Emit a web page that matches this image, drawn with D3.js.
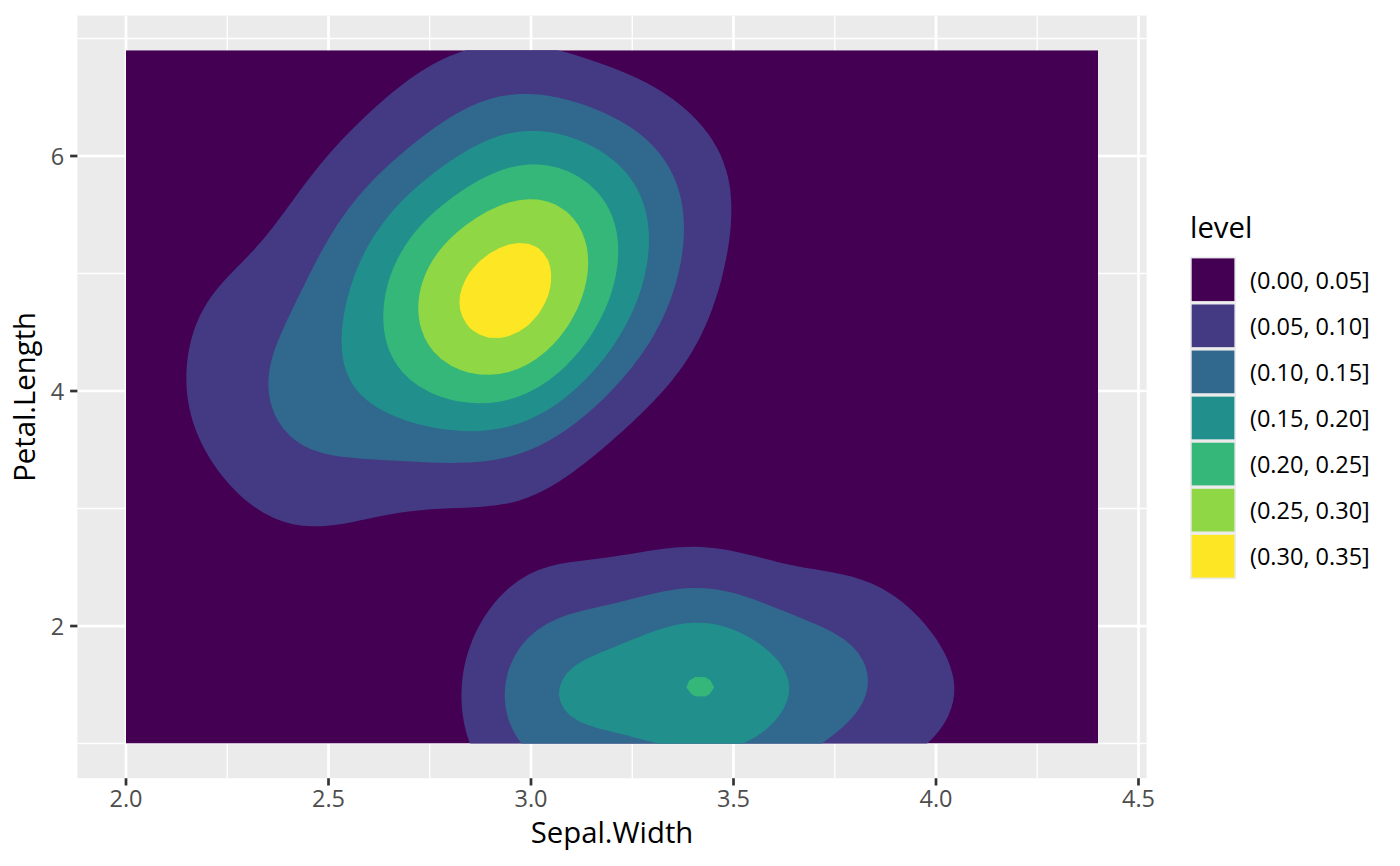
<!DOCTYPE html>
<html>
<head>
<meta charset="utf-8">
<script src="https://cdn.jsdelivr.net/npm/d3@7"></script>
<style>
  body { margin: 0; background: #fff; }
  text { font-family: "Open Sans", "Noto Sans", sans-serif; }
</style>
</head>
<body>
<svg id="chart" width="1400" height="866"></svg>
<script>
// iris: Sepal.Width and Petal.Length (setosa, versicolor, virginica)
const sepalWidth = [
  3.5,3.0,3.2,3.1,3.6,3.9,3.4,3.4,2.9,3.1,3.7,3.4,3.0,3.0,4.0,4.4,3.9,3.5,3.8,3.8,3.4,3.7,3.6,3.3,3.4,
  3.0,3.4,3.5,3.4,3.2,3.1,3.4,4.1,4.2,3.1,3.2,3.5,3.6,3.0,3.4,3.5,2.3,3.2,3.5,3.8,3.0,3.8,3.2,3.7,3.3,
  3.2,3.2,3.1,2.3,2.8,2.8,3.3,2.4,2.9,2.7,2.0,3.0,2.2,2.9,2.9,3.1,3.0,2.7,2.2,2.5,3.2,2.8,2.5,2.8,2.9,
  3.0,2.8,3.0,2.9,2.6,2.4,2.4,2.7,2.7,3.0,3.4,3.1,2.3,3.0,2.5,2.6,3.0,2.6,2.3,2.7,3.0,2.9,2.9,2.5,2.8,
  3.3,2.7,3.0,2.9,3.0,3.0,2.5,2.9,2.5,3.6,3.2,2.7,3.0,2.5,2.8,3.2,3.0,3.8,2.6,2.2,3.2,2.8,2.8,2.7,3.3,
  3.2,2.8,3.0,2.8,3.0,2.8,3.8,2.8,2.8,2.6,3.0,3.4,3.1,3.0,3.1,3.1,3.1,2.7,3.2,3.3,3.0,2.5,3.0,3.4,3.0
];
const petalLength = [
  1.4,1.4,1.3,1.5,1.4,1.7,1.4,1.5,1.4,1.5,1.5,1.6,1.4,1.1,1.2,1.5,1.3,1.4,1.7,1.5,1.7,1.5,1.0,1.7,1.9,
  1.6,1.6,1.5,1.4,1.6,1.6,1.5,1.5,1.4,1.5,1.2,1.3,1.4,1.3,1.5,1.3,1.3,1.3,1.6,1.9,1.4,1.6,1.4,1.5,1.4,
  4.7,4.5,4.9,4.0,4.6,4.5,4.7,3.3,4.6,3.9,3.5,4.2,4.0,4.7,3.6,4.4,4.5,4.1,4.5,3.9,4.8,4.0,4.9,4.7,4.3,
  4.4,4.8,5.0,4.5,3.5,3.8,3.7,3.9,5.1,4.5,4.5,4.7,4.4,4.1,4.0,4.4,4.6,4.0,3.3,4.2,4.2,4.2,4.3,3.0,4.1,
  6.0,5.1,5.9,5.6,5.8,6.6,4.5,6.3,5.8,6.1,5.1,5.3,5.5,5.0,5.1,5.3,5.5,6.7,6.9,5.0,5.7,4.9,6.7,4.9,5.7,
  6.0,4.8,4.9,5.6,5.8,6.1,6.4,5.6,5.1,5.6,6.1,5.6,5.5,4.8,5.4,5.6,5.1,5.1,5.9,5.7,5.2,5.0,5.2,5.4,5.1
];

const levelBreaks = [0.00, 0.05, 0.10, 0.15, 0.20, 0.25, 0.30, 0.35];
const levelLabels = ["(0.00, 0.05]", "(0.05, 0.10]", "(0.10, 0.15]", "(0.15, 0.20]",
                     "(0.20, 0.25]", "(0.25, 0.30]", "(0.30, 0.35]"];
const levelColors = ["#440154", "#443A83", "#31688E", "#21908C", "#35B779", "#8FD744", "#FDE725"];

const xTicks = [2.0, 2.5, 3.0, 3.5, 4.0, 4.5];
const xMinor = [2.25, 2.75, 3.25, 3.75, 4.25];
const yTicks = [2, 4, 6];
const yMinor = [1, 3, 5, 7];

const svg = d3.select("#chart");

const panel = {left: 77.4, right: 1146.6, top: 15.6, bottom: 778.2};

// same as ggplot: 5% expansion on both sides
const xExt = d3.extent(sepalWidth), yExt = d3.extent(petalLength);
const xPad = (xExt[1] - xExt[0]) * 0.05, yPad = (yExt[1] - yExt[0]) * 0.05;
const x = d3.scaleLinear().domain([xExt[0] - xPad, xExt[1] + xPad]).range([panel.left, panel.right]);
const y = d3.scaleLinear().domain([yExt[0] - yPad, yExt[1] + yPad]).range([panel.bottom, panel.top]);

// 2d kernel density, like MASS::kde2d with bandwidth.nrd
function bwNrd(v) {
  const s = v.slice().sort(d3.ascending);
  const iqr = (d3.quantile(s, 0.75) - d3.quantile(s, 0.25)) / 1.34;
  return 4 * 1.06 * Math.min(d3.deviation(v), iqr) * Math.pow(v.length, -0.2);
}
const n = 100;
const hx = bwNrd(sepalWidth) / 4, hy = bwNrd(petalLength) / 4;
const dx = (xExt[1] - xExt[0]) / (n - 1), dy = (yExt[1] - yExt[0]) / (n - 1);
const dnorm = u => Math.exp(-0.5 * u * u) / Math.sqrt(2 * Math.PI);
const grid = new Array(n * n).fill(0);
const npts = sepalWidth.length;
for (let j = 0; j < n; j++) {
  const gy = yExt[0] + j * dy;
  for (let i = 0; i < n; i++) {
    const gx = xExt[0] + i * dx;
    let sum = 0;
    for (let k = 0; k < npts; k++) {
      sum += dnorm((gx - sepalWidth[k]) / hx) * dnorm((gy - petalLength[k]) / hy);
    }
    grid[j * n + i] = sum / (npts * hx * hy);
  }
}

// panel background + grid
svg.append("rect")
  .attr("x", panel.left).attr("y", panel.top)
  .attr("width", panel.right - panel.left).attr("height", panel.bottom - panel.top)
  .attr("fill", "#EBEBEB");

svg.selectAll(".xminor").data(xMinor).enter().append("line")
  .attr("x1", d => x(d)).attr("x2", d => x(d))
  .attr("y1", panel.top).attr("y2", panel.bottom)
  .attr("stroke", "#fff").attr("stroke-width", 1.35);
svg.selectAll(".yminor").data(yMinor.filter(d => y(d) > panel.top && y(d) < panel.bottom)).enter().append("line")
  .attr("y1", d => y(d)).attr("y2", d => y(d))
  .attr("x1", panel.left).attr("x2", panel.right)
  .attr("stroke", "#fff").attr("stroke-width", 1.35);
svg.selectAll(".xmajor").data(xTicks).enter().append("line")
  .attr("x1", d => x(d)).attr("x2", d => x(d))
  .attr("y1", panel.top).attr("y2", panel.bottom)
  .attr("stroke", "#fff").attr("stroke-width", 2.7);
svg.selectAll(".ymajor").data(yTicks).enter().append("line")
  .attr("y1", d => y(d)).attr("y2", d => y(d))
  .attr("x1", panel.left).attr("x2", panel.right)
  .attr("stroke", "#fff").attr("stroke-width", 2.7);

// filled density bands
svg.append("clipPath").attr("id", "gridclip")
  .append("rect")
  .attr("x", x(xExt[0])).attr("y", y(yExt[1]))
  .attr("width", x(xExt[1]) - x(xExt[0])).attr("height", y(yExt[0]) - y(yExt[1]));

const bands = svg.append("g").attr("clip-path", "url(#gridclip)");
bands.append("rect")
  .attr("x", x(xExt[0])).attr("y", y(yExt[1]))
  .attr("width", x(xExt[1]) - x(xExt[0])).attr("height", y(yExt[0]) - y(yExt[1]))
  .attr("fill", levelColors[0]);

const contours = d3.contours().size([n, n]).thresholds(levelBreaks.slice(1, -1))(grid);
const proj = d3.geoTransform({
  point: function(cx, cy) {
    this.stream.point(x(xExt[0] + (cx - 0.5) * dx), y(yExt[0] + (cy - 0.5) * dy));
  }
});
const path = d3.geoPath(proj);
bands.selectAll("path.band").data(contours).enter().append("path")
  .attr("class", "band")
  .attr("d", path)
  .attr("fill", (d, i) => levelColors[i + 1]);

// axes
const tickLen = 7.3;
svg.selectAll(".xtick").data(xTicks).enter().append("line")
  .attr("x1", d => x(d)).attr("x2", d => x(d))
  .attr("y1", panel.bottom).attr("y2", panel.bottom + tickLen)
  .attr("stroke", "#333333").attr("stroke-width", 2.7);
svg.selectAll(".xlab").data(xTicks).enter().append("text")
  .attr("x", d => x(d)).attr("y", 807)
  .attr("text-anchor", "middle")
  .attr("font-size", "23.5px").attr("fill", "#4D4D4D")
  .text(d => d3.format(".1f")(d));

svg.selectAll(".ytick").data(yTicks).enter().append("line")
  .attr("y1", d => y(d)).attr("y2", d => y(d))
  .attr("x1", panel.left - tickLen).attr("x2", panel.left)
  .attr("stroke", "#333333").attr("stroke-width", 2.7);
svg.selectAll(".ylab").data(yTicks).enter().append("text")
  .attr("x", panel.left - tickLen - 5.9).attr("y", d => y(d))
  .attr("text-anchor", "end").attr("dominant-baseline", "central")
  .attr("font-size", "23.5px").attr("fill", "#4D4D4D")
  .text(d => d);

svg.append("text")
  .attr("x", (panel.left + panel.right) / 2).attr("y", 843)
  .attr("text-anchor", "middle").attr("font-size", "29.3px").attr("fill", "#000")
  .text("Sepal.Width");
svg.append("text")
  .attr("transform", "translate(35," + ((panel.top + panel.bottom) / 2) + ") rotate(-90)")
  .attr("text-anchor", "middle").attr("font-size", "29.3px").attr("fill", "#000")
  .text("Petal.Length");

// legend
const keySize = 46.08, legX = 1190, legY = 256.7;
svg.append("text")
  .attr("x", legX).attr("y", 238)
  .attr("font-size", "29.3px").attr("fill", "#000")
  .text("level");
const keys = svg.selectAll(".key").data(levelLabels).enter().append("g")
  .attr("transform", (d, i) => "translate(" + legX + "," + (legY + i * keySize) + ")");
keys.append("rect")
  .attr("width", keySize).attr("height", keySize).attr("fill", "#EBEBEB");
keys.append("rect")
  .attr("x", 1.7).attr("y", 1.7)
  .attr("width", keySize - 3.4).attr("height", keySize - 3.4)
  .attr("fill", (d, i) => levelColors[i]);
keys.append("text")
  .attr("x", 60).attr("y", keySize / 2)
  .attr("dominant-baseline", "central")
  .attr("font-size", "23.5px").attr("fill", "#000")
  .text(d => d);
</script>
</body>
</html>
